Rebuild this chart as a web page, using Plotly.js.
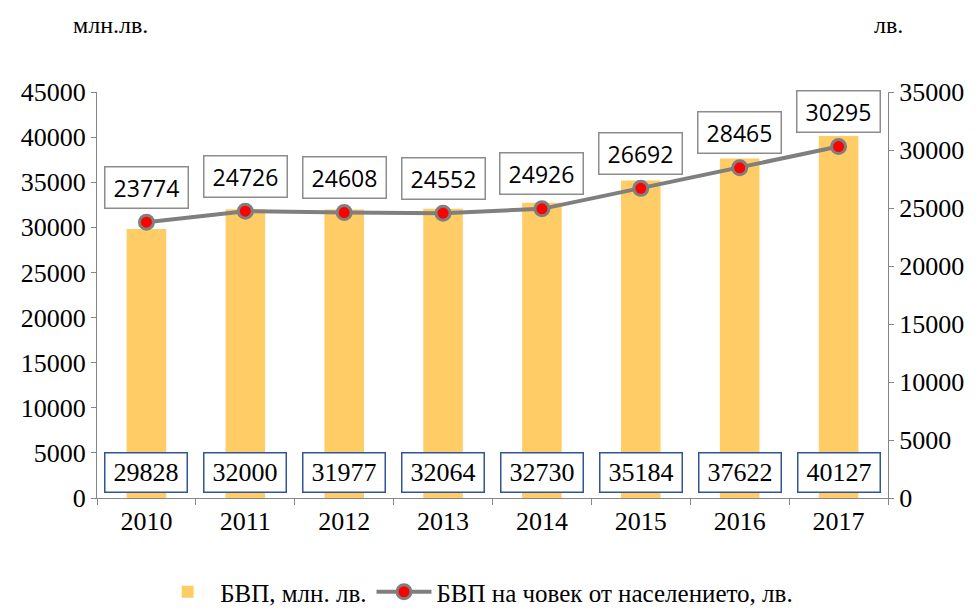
<!DOCTYPE html>
<html>
<head>
<meta charset="utf-8">
<script src="https://cdn.plot.ly/plotly-3.0.1.min.js"></script>
<style>html,body{margin:0;padding:0;background:#fff;}#chart{width:978px;height:615px;}</style>
</head>
<body>
<div id="chart"></div>
<script>
var years = ['2010','2011','2012','2013','2014','2015','2016','2017'];
var gdpTotal = [29828, 32000, 31977, 32064, 32730, 35184, 37622, 40127];
var gdpPerCapita = [23774, 24726, 24608, 24552, 24926, 26692, 28465, 30295];
var seriesNames = ['БВП, млн. лв.', 'БВП на човек от населението, лв.'];
var leftUnit = 'млн.лв.';
var rightUnit = 'лв.';

var serif = 'Liberation Serif';
var sans = 'Open Sans';

var traces = [
  {
    type: 'bar', x: years, y: gdpTotal, name: seriesNames[0],
    marker: {color: '#FFCC66'}, width: 0.4, yaxis: 'y', hoverinfo: 'skip'
  },
  {
    type: 'scatter', mode: 'lines+markers', x: years, y: gdpPerCapita, name: seriesNames[1],
    yaxis: 'y2',
    line: {color: '#7F7F7F', width: 4},
    marker: {color: '#FF0000', size: 14, line: {color: '#7F7F7F', width: 3}}
  }
];

var annotations = [];
years.forEach(function (yr, i) {
  annotations.push({
    x: i, y: gdpPerCapita[i], xref: 'x', yref: 'y2', showarrow: false,
    text: String(gdpPerCapita[i]), yshift: 35,
    font: {family: sans, size: 23, color: '#000'},
    bgcolor: '#fff', bordercolor: '#8C8C8C', borderwidth: 1.5,
    width: 80, height: 38
  });
  annotations.push({
    x: i, y: 0, xref: 'x', yref: 'y', showarrow: false,
    text: String(gdpTotal[i]), yshift: 26,
    font: {family: serif, size: 26, color: '#000'},
    bgcolor: '#fff', bordercolor: '#2F5597', borderwidth: 1.5,
    width: 79, height: 36
  });
});
annotations.push({
  xref: 'paper', yref: 'paper', x: 0.0165, y: 1.165, xanchor: 'center', yanchor: 'middle',
  showarrow: false, text: leftUnit, font: {family: serif, size: 24, color: '#000'}
});
annotations.push({
  xref: 'paper', yref: 'paper', x: 1.0, y: 1.165, xanchor: 'center', yanchor: 'middle',
  showarrow: false, text: rightUnit, font: {family: serif, size: 24, color: '#000'}
});

var axisCommon = {
  showgrid: false, zeroline: false, showline: true, linecolor: '#868686', linewidth: 1,
  ticks: 'outside', ticklen: 5, tickcolor: '#868686',
  tickfont: {family: serif, size: 26, color: '#000'}, fixedrange: true,
  tickformat: 'd'
};

var layout = {
  width: 978, height: 615,
  margin: {l: 97, r: 90, t: 92, b: 117, autoexpand: false},
  paper_bgcolor: '#fff', plot_bgcolor: '#fff',
  font: {family: serif},
  showlegend: true,
  legend: {
    orientation: 'h', x: 0.48, xanchor: 'center', xref: 'paper',
    y: 0.0, yanchor: 'bottom', yref: 'container',
    font: {family: serif, size: 25, color: '#000'}, itemwidth: 55, tracegroupgap: 0
  },
  xaxis: Object.assign({}, axisCommon, {
    type: 'category', tickson: 'boundaries', ticklen: 6, range: [-0.5, 7.5],
    tickangle: 0, autorange: false, tickformat: ''
  }),
  yaxis: Object.assign({}, axisCommon, {range: [0, 45000], dtick: 5000, tick0: 0}),
  yaxis2: Object.assign({}, axisCommon, {
    range: [0, 35000], dtick: 5000, tick0: 0, overlaying: 'y', side: 'right'
  }),
  annotations: annotations
};

Plotly.newPlot('chart', traces, layout, {displayModeBar: false, staticPlot: true});
</script>
</body>
</html>
